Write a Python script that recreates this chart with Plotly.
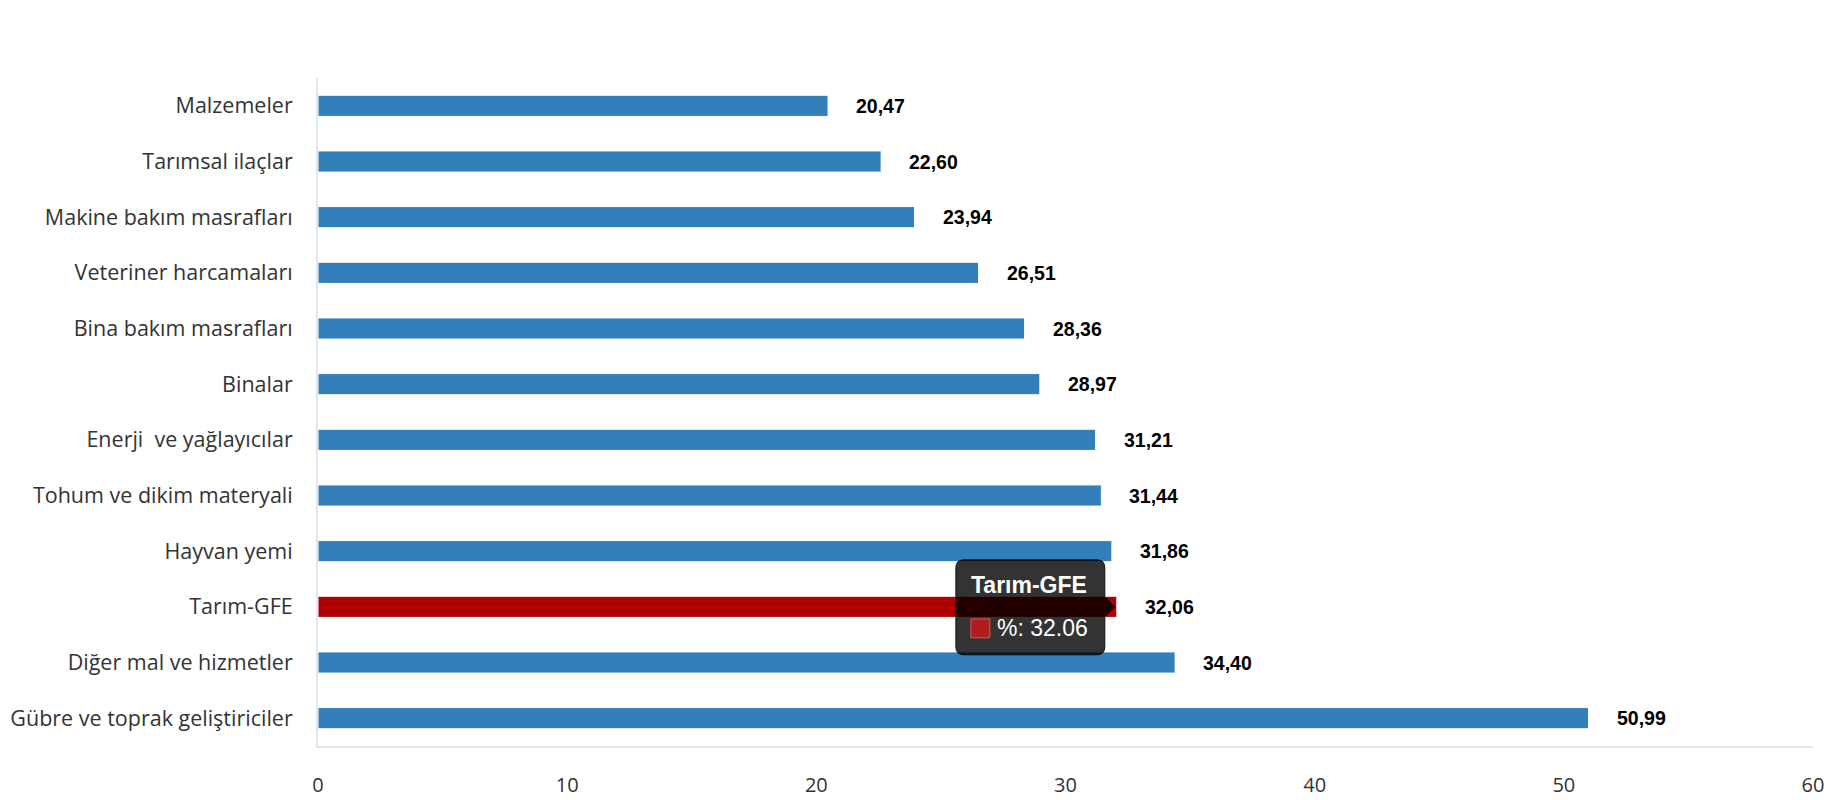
import plotly.graph_objects as go

# kalemler (yukaridan asagiya)
kalemler = [
    "Malzemeler",
    "Tarımsal ilaçlar",
    "Makine bakım masrafları",
    "Veteriner harcamaları",
    "Bina bakım masrafları",
    "Binalar",
    "Enerji  ve yağlayıcılar",
    "Tohum ve dikim materyali",
    "Hayvan yemi",
    "Tarım-GFE",
    "Diğer mal ve hizmetler",
    "Gübre ve toprak geliştiriciler",
]
degisim = [20.47, 22.60, 23.94, 26.51, 28.36, 28.97, 31.21, 31.44, 31.86, 32.06, 34.40, 50.99]
x_ticks = [0, 10, 20, 30, 40, 50, 60]

vurgu = "Tarım-GFE"
mavi = "#337fba"
kirmizi = "#ad0000"
renkler = [kirmizi if k == vurgu else mavi for k in kalemler]

fig = go.Figure()
fig.add_trace(
    go.Bar(
        x=degisim,
        y=kalemler,
        orientation="h",
        width=0.38,
        marker=dict(color=renkler, line=dict(color="white", width=1)),
        hoverinfo="skip",
    )
)

# deger etiketleri (virgullu)
for k, v in zip(kalemler, degisim):
    fig.add_annotation(
        x=v, y=k, text=f"<b>{v:.2f}</b>".replace(".", ","),
        showarrow=False, xanchor="left", xshift=26,
        font=dict(family="Liberation Sans, Arial", size=19.5, color="black"),
    )

# tooltip kutusu (vurgulanan cubugun ucuna sabit, piksel olculu)
i = kalemler.index(vurgu)
kutu = ("M -153,-48 L -20,-48 Q -12,-48 -12,-40 L -12,-10 L -2,0 L -12,10 "
        "L -12,39 Q -12,47 -20,47 L -153,47 Q -161,47 -161,39 L -161,-40 "
        "Q -161,-48 -153,-48 Z")
fig.add_shape(
    type="path", path=kutu, xref="x", yref="y",
    xsizemode="pixel", ysizemode="pixel",
    xanchor=degisim[i], yanchor=vurgu,
    fillcolor="rgba(0,0,0,0.8)", line=dict(color="rgba(0,0,0,0.85)", width=1),
    layer="above",
)
fig.add_shape(
    type="rect", xref="x", yref="y",
    xsizemode="pixel", ysizemode="pixel",
    xanchor=degisim[i], yanchor=vurgu,
    x0=-146, x1=-127, y0=-31, y1=-12,
    fillcolor="#b01c1c", line=dict(color="#cf5a5a", width=1),
    layer="above",
)
fig.add_annotation(
    x=degisim[i], y=vurgu, text=f"<b>{vurgu}</b>",
    showarrow=False, xanchor="left", xshift=-148, yshift=22,
    font=dict(family="Liberation Sans, Arial", size=23, color="white"),
)
fig.add_annotation(
    x=degisim[i], y=vurgu, text=f"%: {degisim[i]:.2f}",
    showarrow=False, xanchor="left", xshift=-122, yshift=-21,
    font=dict(family="Liberation Sans, Arial", size=23, color="white"),
)

fig.update_layout(
    width=1830, height=800,
    margin=dict(l=318, r=17, t=78, b=54),
    plot_bgcolor="white", paper_bgcolor="white",
    showlegend=False,
    font=dict(family="Open Sans, Noto Sans", color="#333333"),
)
fig.update_xaxes(
    range=[0, 60], tickvals=x_ticks, showgrid=False, zeroline=False,
    showline=True, linecolor="#e0e6ee", linewidth=2, automargin=False,
    tickfont=dict(size=20, color="#333333"), ticklabelstandoff=20,
    ticklabeloverflow="allow",
)
fig.update_yaxes(
    autorange="reversed", showgrid=False, zeroline=False,
    showline=True, linecolor="#e0e6ee", linewidth=2, automargin=False,
    tickfont=dict(size=21.5, color="#333333"), ticklabelstandoff=19,
)

# sayfanin varsayilan 8px govde boslugunu kaldir
fig.write_html(
    "out.html",
    config={"displayModeBar": False},
    post_script="document.body.style.margin='0px';",
)
